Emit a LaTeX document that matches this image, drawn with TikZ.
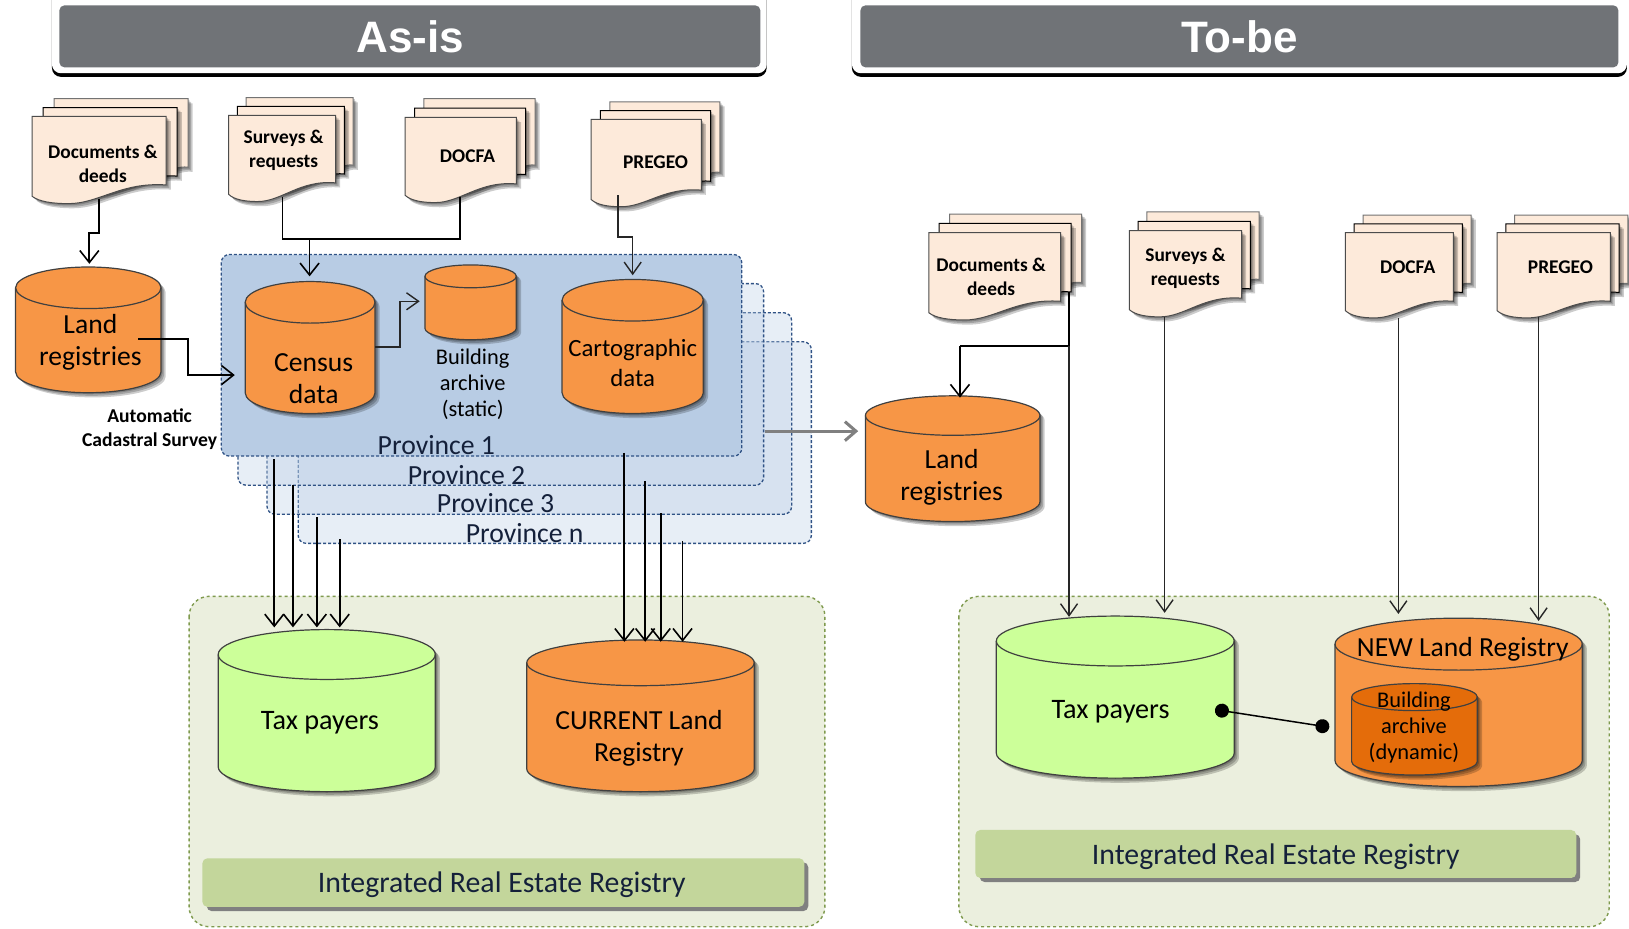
\documentclass[tikz,border=0pt]{standalone}
\usepackage{fontspec}
\setmainfont{Carlito}
\newfontfamily\headfont{Liberation Sans}
\usetikzlibrary{arrows.meta}
\definecolor{orangedb}{HTML}{F79646}
\definecolor{orangedk}{HTML}{E46C0A}
\definecolor{greendb}{HTML}{CCFF99}
\definecolor{peach}{HTML}{FDEADA}
\definecolor{provfill}{HTML}{B8CCE4}
\definecolor{provline}{HTML}{2F5285}
\definecolor{panelfill}{HTML}{EBEFDE}
\definecolor{panelline}{HTML}{7F9A4E}
\definecolor{barfill}{HTML}{C3D69B}
\definecolor{headgrey}{HTML}{707377}
\definecolor{inktext}{HTML}{14203A}
% ---- paths
\newcommand\docpath[5]{(#1,#3) -- (#2,#3) -- (#2,#4)
  .. controls ({#1+.66*(#2-#1)},#4-3) and ({#1+.5*(#2-#1)},#5) .. ({#1+.27*(#2-#1)},#5)
  .. controls ({#1+.15*(#2-#1)},#5) and ({#1+.05*(#2-#1)},#5-2) .. (#1,#5-7) -- cycle}
\newcommand\cylbody[5]{(#1,#3+#5)
  .. controls (#1,{#3+#5-.5523*#5}) and ({(#1+#2)/2-.5523*(#2-#1)/2},#3) .. ({(#1+#2)/2},#3)
  .. controls ({(#1+#2)/2+.5523*(#2-#1)/2},#3) and (#2,{#3+#5-.5523*#5}) .. (#2,#3+#5)
  -- (#2,#4-#5)
  .. controls (#2,{#4-#5+.5523*#5}) and ({(#1+#2)/2+.5523*(#2-#1)/2},#4) .. ({(#1+#2)/2},#4)
  .. controls ({(#1+#2)/2-.5523*(#2-#1)/2},#4) and (#1,{#4-#5+.5523*#5}) .. (#1,#4-#5) -- cycle}
\newcommand\softshadow[2]{%
  \foreach \sa in {1.5,3,4.5}{\fill[black,opacity=.2,shift={(\sa,\sa)}] #2;}}
% name x0 x1 ytop ybot ry fill
\newcommand\dbcyl[7]{%
  \softshadow{}{\cylbody{#2}{#3}{#4}{#5}{#6}}
  \filldraw[fill=#7,draw=black!75,line width=1.2pt] \cylbody{#2}{#3}{#4}{#5}{#6};
  \draw[draw=black!75,line width=1.2pt] (#2,#4+#6)
    .. controls (#2,{#4+#6+.5523*#6}) and ({(#2+#3)/2-.5523*(#3-#2)/2},#4+2*#6) .. ({(#2+#3)/2},#4+2*#6)
    .. controls ({(#2+#3)/2+.5523*(#3-#2)/2},#4+2*#6) and (#3,{#4+#6+.5523*#6}) .. (#3,#4+#6);
  \pgfmathsetmacro\cw{(#3-#2)*1.039}\pgfmathsetmacro\ch{(#5-#4)*1.039}
  \node[minimum width=\cw pt,minimum height=\ch pt,inner sep=0pt] (#1) at ({(#2+#3)/2},{(#4+#5)/2}) {};
}
% name x0 x1 ytop ybr low dx dy
\newcommand\docstack[8]{%
  \softshadow{}{\docpath{#2+2*#7}{#3+2*#7}{#4-2*#8}{#5-2*#8}{#6-2*#8}}
  \filldraw[fill=peach,draw=black!55,line width=1pt] \docpath{#2+2*#7}{#3+2*#7}{#4-2*#8}{#5-2*#8}{#6-2*#8};
  \softshadow{}{\docpath{#2+#7}{#3+#7}{#4-#8}{#5-#8}{#6-#8}}
  \filldraw[fill=peach,draw=black,line width=1pt] \docpath{#2+#7}{#3+#7}{#4-#8}{#5-#8}{#6-#8};
  \softshadow{}{\docpath{#2}{#3}{#4}{#5}{#6}}
  \filldraw[fill=peach,draw=black!70,line width=1pt] \docpath{#2}{#3}{#4}{#5}{#6};
  \pgfmathsetmacro\cw{(#3-#2)*1.039}\pgfmathsetmacro\ch{(#6-#4)*1.039}
  \node[minimum width=\cw pt,minimum height=\ch pt,inner sep=0pt] (#1) at ({(#2+#3)/2},{(#4+#6)/2}) {};
}
\tikzset{
  x=1.039pt,y=-1.039pt,
  provbox/.style={draw=provline,densely dashed,line width=1.3pt,rounded corners=8pt,fill=provfill,fill opacity=.33},
  provtext/.style={font=\fontsize{27.7}{32}\selectfont,text=inktext,inner sep=0pt,yshift=-1pt},
  doctext/.style={font=\fontsize{19.4}{24}\selectfont\bfseries,text=black,align=center,inner sep=0pt,yshift=-1pt},
  dbtext/.style={font=\fontsize{27.6}{32}\selectfont,text=black,align=center,inner sep=0pt,yshift=-2pt},
  smalltext/.style={font=\fontsize{22.4}{26}\selectfont,text=black,align=center,inner sep=0pt,yshift=-1pt},
  bartext/.style={font=\fontsize{29.8}{32}\selectfont,text=inktext,inner sep=0pt,yshift=-2pt},
  headtext/.style={font=\fontsize{44}{50}\selectfont\headfont\bfseries,text=white,inner sep=0pt},
  conn/.style={draw=black,line width=1.8pt,-{Straight Barb[length=12pt,width=19pt,line width=1.6pt]}},
  connthin/.style={draw=black!85,line width=1.5pt,-{Straight Barb[length=12pt,width=17pt,line width=1.4pt]}},
  plain/.style={draw=black,line width=1.8pt},
  greyarrow/.style={draw=black!50,line width=3.2pt,-{Straight Barb[length=11pt,width=19pt,line width=3pt]}},
  dotline/.style={draw=black,line width=1.5pt,{Circle[length=14pt]}-{Circle[length=14pt]}},
  panel/.style={fill=panelfill,draw=panelline,dashed,line width=1.4pt,rounded corners=20pt},
  regbar/.style={fill=barfill,rounded corners=5pt},
  barshadow/.style={fill=black!50,rounded corners=5pt},
}
\begin{document}
\begin{tikzpicture}
\useasboundingbox (0,0) rectangle (1568,894);
\fill[white] (0,0) rectangle (1568,894);
% ---------------- headers
\fill[black,rounded corners=9pt] (50,-12) rectangle (738,74);
\fill[white,rounded corners=9pt] (50,-12) rectangle (738,70.5);
\node[fill=headgrey,rounded corners=5pt,minimum width=701pt,minimum height=62pt,inner sep=0pt] (asisbar) at (394.5,35) {};
\node[headtext] (asis) at (395,35) {As-is};
\fill[black,rounded corners=9pt] (820,-12) rectangle (1566,74);
\fill[white,rounded corners=9pt] (820,-12) rectangle (1566,70.5);
\node[fill=headgrey,rounded corners=5pt,minimum width=758pt,minimum height=62pt,inner sep=0pt] (tobebar) at (1193,35) {};
\node[headtext] (tobe) at (1193,35) {To-be};
% ---------------- panels
\draw[panel] (182,574) rectangle (794,892);
\draw[panel] (923,574) rectangle (1549,892);
\fill[barshadow] (199,830) rectangle (778,877);
\node[regbar,minimum width=602pt,minimum height=48.5pt,inner sep=0pt] (barL) at (484.5,849.5) {};
\node[bartext] (barLt) at (483,850) {Integrated Real Estate Registry};
\fill[barshadow] (943,803) rectangle (1521,849);
\node[regbar,minimum width=601pt,minimum height=48pt,inner sep=0pt] (barR) at (1228,822) {};
\node[bartext] (barRt) at (1228,823) {Integrated Real Estate Registry};
% ---------------- provinces
\draw[provbox] (287,329) rectangle (781,523);
\draw[provbox] (257,301) rectangle (762,495);
\draw[provbox] (229,273) rectangle (735,467);
\draw[provbox,fill opacity=1] (213,245) rectangle (714,439);
\node[provtext] (p1) at (420,427) {Province 1};
\node[provtext] (p2) at (449,456) {Province 2};
\node[provtext] (p3) at (477,483) {Province 3};
\node[provtext] (pn) at (505,512) {Province n};
% ---------------- documents
\docstack{d1}{31}{160}{112}{178}{196}{10.5}{8.5}
\docstack{d2}{220}{323}{111}{176}{194}{8.5}{8.5}
\docstack{d3}{390}{497}{113}{177}{195}{9}{9}
\docstack{d4}{569}{675}{115}{183}{199}{9}{8.5}
\docstack{t1}{894}{1021}{224}{290}{308}{10}{9}
\docstack{t2}{1087}{1195}{222}{287}{305}{8.5}{9}
\docstack{t3}{1295}{1399}{224}{290}{306}{8.5}{8.5}
\docstack{t4}{1441}{1550}{224}{290}{306}{8.5}{8.5}
\node[doctext] (d1t) at (99,156.5) {Documents \&\\deeds};
\node[doctext] (d2t) at (273,144) {Surveys \&\\requests};
\node[doctext] (d3t) at (450,149) {DOCFA};
\node[doctext] (d4t) at (631,155) {PREGEO};
\node[doctext] (t1t) at (954,265.5) {Documents \&\\deeds};
\node[doctext] (t2t) at (1141,257.5) {Surveys \&\\requests};
\node[doctext] (t3t) at (1355,256) {DOCFA};
\node[doctext] (t4t) at (1502,256) {PREGEO};
% ---------------- databases
\dbcyl{lrL}{15}{155}{257}{378}{20}{orangedb}
\dbcyl{census}{236}{361}{271}{398}{20}{orangedb}
\dbcyl{bstatic}{409}{497}{255}{327}{11}{orangedb}
\dbcyl{carto}{541}{677}{269}{398}{20}{orangedb}
\dbcyl{taxL}{210}{419}{606}{762}{24}{greendb}
\dbcyl{curr}{507}{726}{616}{762}{22}{orangedb}
\dbcyl{lrR}{833}{1001}{381}{502}{19}{orangedb}
\dbcyl{taxR}{959}{1188}{593}{749}{24}{greendb}
\dbcyl{newlr}{1285}{1523}{595}{757}{25}{orangedb}
\dbcyl{bdyn}{1301}{1422}{658}{746}{13}{orangedk}
\node[dbtext] (lrLt) at (87,327.5) {Land\\registries};
\node[dbtext] (censust) at (302,362.5) {Census\\data};
\node[smalltext] (bstatict) at (455,369) {Building\\archive\\(static)};
\node[font=\fontsize{24.8}{30}\selectfont,align=center,inner sep=0pt,yshift=-1pt] (cartot) at (609,348.5) {Cartographic\\data};
\node[dbtext,font=\fontsize{28.2}{32}\selectfont] (taxLt) at (308,694) {Tax payers};
\node[dbtext] (currt) at (615,709) {CURRENT Land\\Registry};
\node[dbtext] (lrRt) at (916,457.5) {Land\\registries};
\node[dbtext,font=\fontsize{28.2}{32}\selectfont] (taxRt) at (1069,683) {Tax payers};
\node[dbtext] (newlrt) at (1408,623) {NEW Land Registry};
\node[smalltext] (bdynt) at (1361,699.5) {Building\\archive\\(dynamic)};
\node[font=\fontsize{19.6}{24}\selectfont\bfseries,align=center,inner sep=0pt,yshift=-1pt] (acs) at (144,412.5) {Automatic\\Cadastral Survey};
% ---------------- connector anchors
\coordinate (d1o) at (95,192);
\coordinate (d1e) at (95,224);
\coordinate (lrin) at (86,224);
\coordinate (d2o) at (272,190);
\coordinate (d3o) at (443,190);
\coordinate (cjoin) at (298,230);
\coordinate (d4o) at (595,188);
\coordinate (d4e) at (595,228);
\coordinate (cartoin) at (609,228);
\coordinate (lro) at (133,326);
\coordinate (lre) at (181,361);
\coordinate (pin) at (226,361);
\coordinate (ceno) at (361,334);
\coordinate (cene) at (385,290);
\coordinate (bin) at (404,290);
\coordinate (gs) at (736,415);
% left-hand side arrows
\draw[conn] (d1o) -- (d1e) -- (lrin) -- ([yshift=3pt]lrin |- lrL.north);
\draw[plain] (d2o) |- (cjoin) -| (d3o);
\draw[conn] (cjoin) -- ([yshift=5pt]cjoin |- census.north);
\draw[connthin] (d4o) -- (d4e) -- (cartoin) -- ([yshift=4pt]cartoin |- carto.north);
\draw[conn] (lro) -| (lre) -- (pin);
\draw[connthin] (ceno) -| (cene) -- (bin);
\draw[greyarrow] (gs) -- ([xshift=-7pt]lrR.west |- gs);
% province -> registry arrows
\coordinate (a1) at (264,442);
\coordinate (a2) at (282,467);
\coordinate (a3) at (305,498);
\coordinate (a4) at (327,519);
\coordinate (b1) at (601,436);
\coordinate (b2) at (621,463);
\coordinate (b3) at (636,494);
\coordinate (b4) at (657,521);
\foreach \s in {a1,a2,a3,a4}{\draw[conn] (\s) -- ([yshift=2pt]\s |- taxL.north);}
\foreach \s in {b1,b2,b3,b4}{\draw[conn] (\s) -- ([yshift=-2pt]\s |- curr.north);}
% to-be arrows
\coordinate (t1o) at (1029,281);
\coordinate (t1e) at (1029,333);
\coordinate (lrrin) at (924,333);
\coordinate (t2o) at (1121,305);
\coordinate (t3o) at (1346,306);
\coordinate (t4o) at (1481,305);
\draw[plain] (t1o) -- (t1e) -- (lrrin);
\draw[conn] (lrrin) -- ([yshift=-2pt]lrrin |- lrR.north);
\draw[connthin] (t1e) -- ([yshift=-1pt]t1e |- taxR.north);
\draw[connthin] (t2o) -- ([yshift=3pt]t2o |- taxR.north);
\draw[connthin] (t3o) -- ([yshift=4pt]t3o |- newlr.north);
\draw[connthin] (t4o) -- ([yshift=-3pt]t4o |- newlr.north);
% link
\coordinate (lk1) at (1169.5,683);
\coordinate (lk2) at (1279.5,700);
\draw[dotline] (lk1) -- (lk2);
\end{tikzpicture}
\end{document}
